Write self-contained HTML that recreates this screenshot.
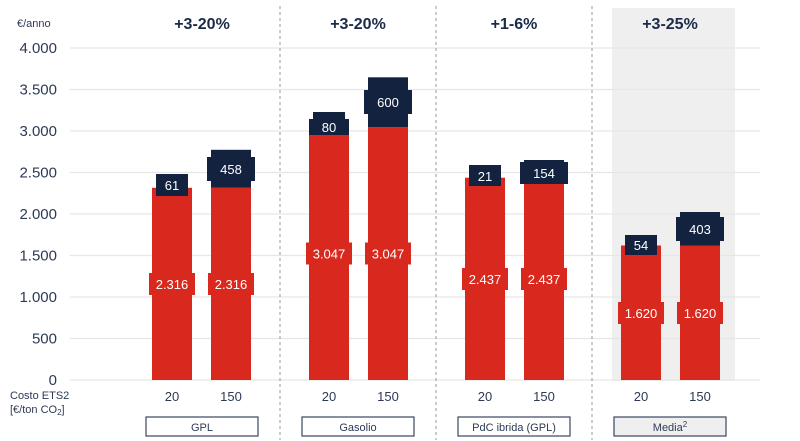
<!DOCTYPE html>
<html><head><meta charset="utf-8"><style>
body{margin:0;background:#fff}
svg{display:block;font-family:"Liberation Sans",sans-serif}
</style></head><body>
<svg width="800" height="441" viewBox="0 0 800 441">
<rect x="612" y="8" width="123" height="373" fill="#efefef"/>
<g stroke="#e6e6e6" stroke-width="1.2">
<line x1="70" x2="760" y1="48" y2="48"/><line x1="70" x2="760" y1="89.5" y2="89.5"/>
<line x1="70" x2="760" y1="131" y2="131"/><line x1="70" x2="760" y1="172.5" y2="172.5"/>
<line x1="70" x2="760" y1="214" y2="214"/><line x1="70" x2="760" y1="255.5" y2="255.5"/>
<line x1="70" x2="760" y1="297" y2="297"/><line x1="70" x2="760" y1="338.5" y2="338.5"/>
<line x1="70" x2="760" y1="380" y2="380"/>
</g>
<g stroke="#999" stroke-width="1" stroke-dasharray="3,3">
<line x1="280" x2="280" y1="6" y2="440"/><line x1="436" x2="436" y1="6" y2="440"/><line x1="592" x2="592" y1="6" y2="440"/>
</g>
<g fill="#2d3a55" font-size="15" text-anchor="end">
<text x="57" y="53">4.000</text><text x="57" y="94.5">3.500</text><text x="57" y="136">3.000</text>
<text x="57" y="177.5">2.500</text><text x="57" y="219">2.000</text><text x="57" y="260.5">1.500</text>
<text x="57" y="302">1.000</text><text x="57" y="343.5">500</text><text x="57" y="385">0</text>
</g>
<text x="17" y="27" font-size="11" fill="#2d3a55">€/anno</text>
<g fill="#1a2a48" font-size="16" font-weight="bold" text-anchor="middle">
<text x="202" y="29">+3-20%</text><text x="358" y="29">+3-20%</text><text x="514" y="29">+1-6%</text><text x="670" y="29">+3-25%</text>
</g>
<g fill="#d9291f">
<rect x="152" y="187.8" width="40" height="192.2"/><rect x="211" y="187.8" width="40" height="192.2"/>
<rect x="149" y="273" width="46" height="22"/><rect x="208" y="273" width="46" height="22"/>
<rect x="309" y="127.1" width="40" height="252.9"/><rect x="368" y="127.1" width="40" height="252.9"/>
<rect x="306" y="242.5" width="46" height="22"/><rect x="365" y="242.5" width="46" height="22"/>
<rect x="465" y="177.7" width="40" height="202.3"/><rect x="524" y="177.7" width="40" height="202.3"/>
<rect x="462" y="268" width="46" height="22"/><rect x="521" y="268" width="46" height="22"/>
<rect x="621" y="245.5" width="40" height="134.5"/><rect x="680" y="245.5" width="40" height="134.5"/>
<rect x="618" y="302" width="46" height="22"/><rect x="677" y="302" width="46" height="22"/>
</g>
<g fill="#fff" font-size="13" text-anchor="middle">
<text x="172" y="289">2.316</text><text x="231" y="289">2.316</text>
<text x="329" y="258.5">3.047</text><text x="388" y="258.5">3.047</text>
<text x="485" y="284">2.437</text><text x="544" y="284">2.437</text>
<text x="641" y="318">1.620</text><text x="700" y="318">1.620</text>
</g>
<g fill="#13233f">
<rect x="156" y="182.7" width="32" height="5.1"/><rect x="156" y="174" width="32" height="22"/>
<rect x="211" y="149.8" width="40" height="38"/><rect x="207" y="157" width="48" height="24"/>
<rect x="313" y="112" width="32" height="15.1"/><rect x="309" y="119" width="40" height="16"/>
<rect x="368" y="77.3" width="40" height="49.8"/><rect x="364" y="90" width="48" height="24"/>
<rect x="469" y="165" width="32" height="12.7"/><rect x="469" y="166" width="32" height="20"/>
<rect x="524" y="160" width="40" height="17.7"/><rect x="520" y="162" width="48" height="22"/>
<rect x="625" y="235" width="32" height="10.5"/><rect x="625" y="235" width="32" height="20"/>
<rect x="680" y="212" width="40" height="33.5"/><rect x="676" y="217" width="48" height="24"/>
</g>
<g fill="#fff" font-size="13" text-anchor="middle">
<text x="172" y="190">61</text><text x="231" y="174">458</text>
<text x="329" y="132">80</text><text x="388" y="107">600</text>
<text x="485" y="181">21</text><text x="544" y="178">154</text>
<text x="641" y="250">54</text><text x="700" y="234">403</text>
</g>
<g fill="#2d3a55" font-size="13" text-anchor="middle">
<text x="172" y="401">20</text><text x="231" y="401">150</text>
<text x="329" y="401">20</text><text x="388" y="401">150</text>
<text x="485" y="401">20</text><text x="544" y="401">150</text>
<text x="641" y="401">20</text><text x="700" y="401">150</text>
</g>
<text x="10" y="399" font-size="11" fill="#2d3a55">Costo ETS2</text>
<text x="10" y="413" font-size="11" fill="#2d3a55">[€/ton CO<tspan font-size="8" dy="2">2</tspan><tspan dy="-2">]</tspan></text>
<g fill="#fff" stroke="#3a4660" stroke-width="1.2">
<rect x="146" y="417" width="112" height="19"/><rect x="302" y="417" width="112" height="19"/>
<rect x="458" y="417" width="112" height="19"/><rect x="614" y="417" width="112" height="19" fill="#efefef"/>
</g>
<g fill="#2d3a55" font-size="11" text-anchor="middle">
<text x="202" y="431">GPL</text><text x="358" y="431">Gasolio</text><text x="514" y="431">PdC ibrida (GPL)</text>
<text x="670" y="431">Media<tspan font-size="8" dy="-4">2</tspan></text>
</g>
</svg>
</body></html>
